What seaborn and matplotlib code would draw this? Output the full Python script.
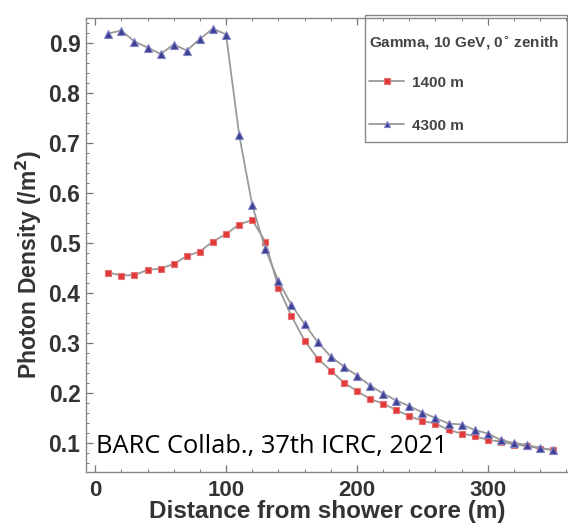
import matplotlib
matplotlib.use("Agg")
import matplotlib.pyplot as plt
import matplotlib.patches as mpatches
import seaborn as sns
import pandas as pd
from matplotlib.ticker import MultipleLocator

distance = [10, 20, 30, 40, 50, 60, 70, 80, 90, 100, 110, 120, 130, 140, 150, 160, 170, 180,
            190, 200, 210, 220, 230, 240, 250, 260, 270, 280, 290, 300, 310, 320, 330, 340, 350]
dens_1400 = [0.441, 0.435, 0.436, 0.446, 0.449, 0.458, 0.474, 0.483, 0.503, 0.518, 0.537, 0.546,
             0.503, 0.411, 0.354, 0.305, 0.269, 0.245, 0.221, 0.204, 0.188, 0.179, 0.166, 0.154,
             0.144, 0.139, 0.126, 0.119, 0.114, 0.106, 0.103, 0.097, 0.094, 0.089, 0.086]
dens_4300 = [0.919, 0.925, 0.903, 0.891, 0.878, 0.897, 0.885, 0.908, 0.929, 0.917, 0.717, 0.576,
             0.488, 0.424, 0.376, 0.338, 0.302, 0.273, 0.253, 0.235, 0.215, 0.199, 0.185, 0.174,
             0.161, 0.150, 0.139, 0.137, 0.126, 0.119, 0.106, 0.100, 0.096, 0.090, 0.086]
series_labels = ["1400 m", "4300 m"]
x_ticks = [0, 100, 200, 300]
y_ticks = [0.1, 0.2, 0.3, 0.4, 0.5, 0.6, 0.7, 0.8, 0.9]
legend_title = "Gamma, 10 GeV, 0$^{\\circ}$ zenith"
x_label = "Distance from shower core (m)"
y_label = "Photon Density (/m$^{2}$)"
note = "BARC Collab., 37th ICRC, 2021"

sns.set_style("ticks")
plt.rcParams["font.family"] = ["Liberation Sans", "DejaVu Sans"]
plt.rcParams["mathtext.default"] = "bf"

fig = plt.figure(figsize=(5.68, 5.28), dpi=100)
W, H = 568, 528
left, right, top, bottom = 86, 568, 18, 471.7
ax = fig.add_axes([left / W, 1 - bottom / H, (right - left) / W, (bottom - top) / H])

df1 = pd.DataFrame({"x": distance, "y": dens_1400})
df2 = pd.DataFrame({"x": distance, "y": dens_4300})
line_col = "#9a9a9a"
sns.lineplot(data=df1, x="x", y="y", ax=ax, color=line_col, lw=1.3, marker="s", markersize=5,
             markerfacecolor="#e2393c", markeredgecolor="#ea7070", markeredgewidth=0.8,
             label=series_labels[0])
sns.lineplot(data=df2, x="x", y="y", ax=ax, color=line_col, lw=1.3, marker="^", markersize=5.5,
             markerfacecolor="#3d3f94", markeredgecolor="#8082c4", markeredgewidth=0.8,
             label=series_labels[1])

ax.set_xlim(-7.0, 361.3)
ax.set_ylim(0.0426, 0.95)
ax.xaxis.set_minor_locator(MultipleLocator(20))
ax.yaxis.set_minor_locator(MultipleLocator(0.02))
ax.set_xticks(x_ticks)
ax.set_xticklabels([str(v) for v in x_ticks], fontweight="bold")
ax.set_yticks(y_ticks)
ax.set_yticklabels([f"{v:.1f}" for v in y_ticks], fontweight="bold")
ax.tick_params(which="both", direction="in", top=True, right=False, color="#777777")
ax.tick_params(which="major", length=5, width=0.9)
ax.tick_params(which="minor", length=2.5, width=0.7)
ax.tick_params(axis="both", labelcolor="#333333")
ax.tick_params(axis="x", pad=6, labelsize=16)
ax.tick_params(axis="y", pad=4, labelsize=16.5)

for s in ["left", "bottom", "top"]:
    ax.spines[s].set_color("#888888")
    ax.spines[s].set_linewidth(1.0)
ax.spines["right"].set_visible(False)

ax.set_xlabel(x_label, fontsize=17.5, fontweight="bold", color="#333333", labelpad=-1)
ax.set_ylabel(y_label, fontsize=16.5, fontweight="bold", color="#333333")
ax.yaxis.set_label_coords((44 - left) / (right - left), (bottom - 265) / (bottom - top))

# legend frame drawn separately (box partly cut by the right edge in the reference)
frame = mpatches.Rectangle((365 / W, 1 - 142 / H), (567 - 365) / W, (142 - 15) / H,
                           transform=fig.transFigure, fill=False, edgecolor="#888888", lw=1.0)
fig.add_artist(frame)

leg = ax.legend(title=legend_title, loc="upper left", bbox_to_anchor=(369 / W, 1 - 34 / H),
                bbox_transform=fig.transFigure, frameon=False,
                fontsize=11, title_fontsize=11, labelspacing=1.9, borderpad=0,
                handlelength=2.3, handletextpad=0.5, alignment="left", borderaxespad=0,
                markerscale=0.85)
leg.get_title().set_fontweight("bold")
leg.get_title().set_color("#444444")
for t in leg.get_texts():
    t.set_fontweight("bold")
    t.set_color("#444444")
leg._legend_box.sep = 17

fig.text(96 / W, 1 - 447 / H, note, fontsize=18.4, family=["Open Sans", "DejaVu Sans"],
         color="black", va="center", ha="left",
         bbox=dict(facecolor="white", edgecolor="none", pad=1.0))

fig.savefig("out.png", dpi=100)
